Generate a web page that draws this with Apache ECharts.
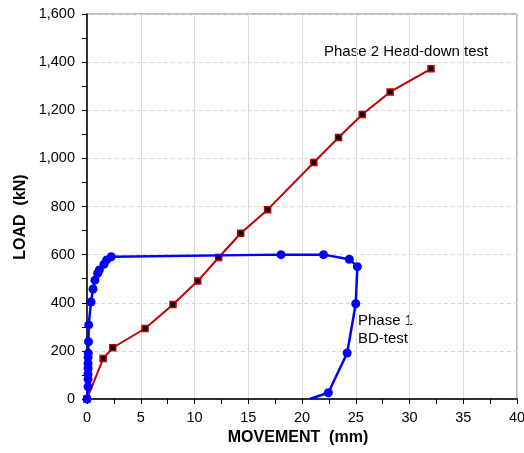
<!DOCTYPE html>
<html>
<head>
<meta charset="utf-8">
<script src="https://cdn.jsdelivr.net/npm/echarts@6/dist/echarts.min.js"></script>
<style>
  html, body { margin: 0; padding: 0; background: #fff; }
  #chart { width: 524px; height: 453px; }
</style>
</head>
<body>
<div id="chart"></div>
<script>
// Phase 1 BD-test (movement mm, load kN)
var phase1Move = [0, 0.1, 0.1, 0.1, 0.1, 0.1, 0.1, 0.12, 0.14, 0.16, 0.37, 0.56, 0.74, 0.99, 1.15, 1.58, 1.83, 2.25,
                  18.05, 22.0, 24.4, 25.15, 25.0, 24.2, 22.45, 20.7];
var phase1Load = [0, 51, 82, 104, 127, 148, 173, 190, 238, 308, 403, 457, 494, 522, 536, 560, 578, 591,
                  600, 600, 581, 550, 396, 191, 26, 0];
// Phase 2 Head-down test
var phase2Move = [0, 1.5, 2.4, 5.4, 8.0, 10.3, 12.25, 14.3, 16.8, 21.1, 23.4, 25.6, 28.2, 32.0];
var phase2Load = [0, 168, 213, 293, 393, 490, 588, 689, 787, 983, 1087, 1182, 1276, 1372];

var xTicks = [0, 5, 10, 15, 20, 25, 30, 35, 40];
var yTicks = [0, 200, 400, 600, 800, 1000, 1200, 1400, 1600];

var font = 'Liberation Sans, Arial, sans-serif';

var phase1Data = phase1Move.map(function (m, i) {
  var p = { value: [m, phase1Load[i]] };
  if (i === phase1Move.length - 1) p.symbol = 'none'; // line runs off to axis
  return p;
});
var phase2Data = phase2Move.map(function (m, i) { return [m, phase2Load[i]]; });

var myChart = echarts.init(document.getElementById('chart'));
myChart.setOption({
  animation: false,
  grid: {
    left: 87, right: 7, top: 14, bottom: 54,
    outerBoundsMode: 'none',
    show: true, borderColor: '#777', borderWidth: 1
  },
  xAxis: {
    type: 'value',
    min: xTicks[0], max: xTicks[xTicks.length - 1], interval: 5,
    axisLine: { lineStyle: { color: '#000', width: 1.5 } },
    axisTick: { show: true, length: 5, lineStyle: { color: '#000' } },
    minorTick: { show: true, splitNumber: 2, length: 5, lineStyle: { color: '#000' } },
    axisLabel: { fontFamily: font, fontSize: 14.5, color: '#000', margin: 11 },
    splitLine: { show: true, lineStyle: { color: '#d9d9d9', width: 1 } }
  },
  yAxis: {
    type: 'value',
    min: yTicks[0], max: yTicks[yTicks.length - 1], interval: 200,
    axisLine: { show: true, lineStyle: { color: '#000', width: 1.5 } },
    axisTick: { show: true, length: 5, lineStyle: { color: '#000' } },
    minorTick: { show: true, splitNumber: 2, length: 5, lineStyle: { color: '#000' } },
    axisLabel: {
      fontFamily: font, fontSize: 14.5, color: '#000', margin: 12,
      formatter: function (v) { return v.toLocaleString('en-US'); }
    },
    splitLine: { show: true, lineStyle: { color: '#d9d9d9', type: [4, 3], width: 1 } }
  },
  series: [
    {
      name: 'Phase 2 Head-down test',
      type: 'line',
      data: phase2Data,
      symbol: 'rect',
      symbolSize: 6,
      itemStyle: { color: '#000', borderColor: '#c00000', borderWidth: 1.5 },
      lineStyle: { color: '#c00000', width: 2 },
      z: 2
    },
    {
      name: 'Phase 1 BD-test',
      type: 'line',
      data: phase1Data,
      symbol: 'circle',
      symbolSize: 9,
      itemStyle: { color: '#0000ff' },
      lineStyle: { color: '#0000ff', width: 2.5 },
      z: 3
    }
  ],
  graphic: [
    // axis titles
    {
      type: 'text', x: 298, y: 438,
      style: {
        text: 'MOVEMENT  (mm)', font: 'bold 16px ' + font, fill: '#000',
        align: 'center', verticalAlign: 'middle'
      }
    },
    {
      type: 'text', x: 21, y: 217, rotation: Math.PI / 2,
      style: {
        text: 'LOAD  (kN)', font: 'bold 16px ' + font, fill: '#000',
        align: 'center', verticalAlign: 'middle'
      }
    },
    // annotations
    {
      type: 'text', left: 324, top: 44,
      style: { text: 'Phase 2 Head-down test', font: '15px ' + font, fill: '#000' }
    },
    {
      type: 'text', left: 358, top: 312,
      style: { text: 'Phase 1\nBD-test', font: '15px ' + font, fill: '#000', lineHeight: 18 }
    }
  ]
});
</script>
</body>
</html>
